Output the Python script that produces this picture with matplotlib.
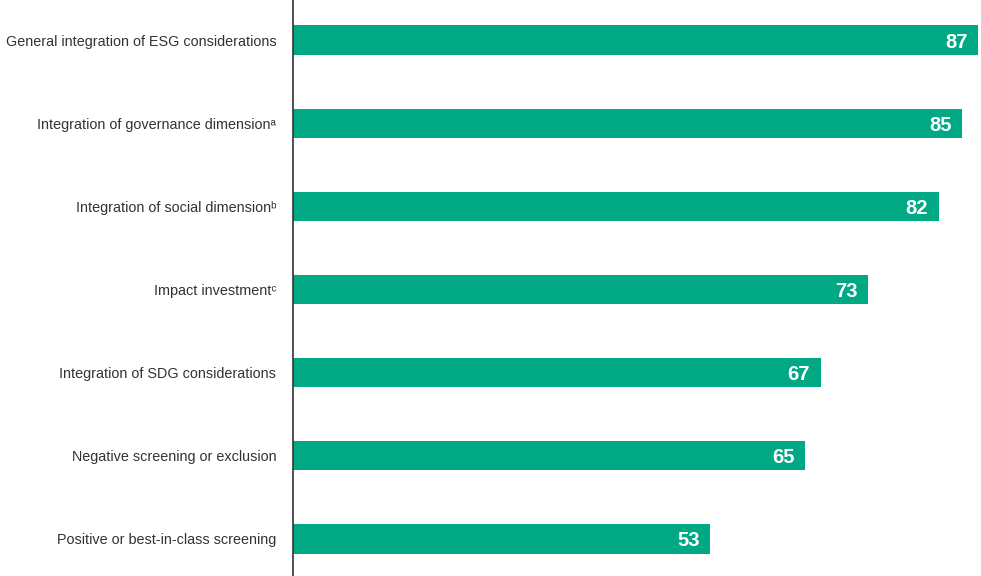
"""Horizontal bar chart of ESG approaches."""

import matplotlib.pyplot as plt

categories = [
    "General integration of ESG considerations",
    "Integration of governance dimension\u1d43",
    "Integration of social dimension\u1d47",
    "Impact investment\u1d9c",
    "Integration of SDG considerations",
    "Negative screening or exclusion",
    "Positive or best-in-class screening",
]
values = [87, 85, 82, 73, 67, 65, 53]

bar_color = "#00A884"
font = ["Liberation Sans", "DejaVu Sans"]

fig = plt.figure(figsize=(9.81, 5.76), dpi=100)
ax = fig.add_axes([293 / 981, 0, 685 / 981, 1])

pos = list(range(len(values)))
ax.barh(pos, values, height=0.35, color=bar_color)

# value labels inside the bar ends
for y, v in zip(pos, values):
    ax.annotate(str(v), xy=(v, y), xytext=(-7.5, 0), textcoords="offset points",
                ha="right", va="center_baseline", color="white", fontsize=14.5,
                fontweight="bold", family=font)

ax.set_xlim(0, 87)
ax.set_ylim(6.445, -0.481)
ax.set_yticks(pos)
ax.set_yticklabels(categories, family=font, fontsize=10.4, color="#333333")
ax.tick_params(axis="y", length=0, pad=12)
ax.set_xticks([])

for side in ["top", "right", "bottom"]:
    ax.spines[side].set_visible(False)
ax.spines["left"].set_color("#333333")
ax.spines["left"].set_linewidth(1.2)

plt.savefig("out.png", dpi=100)
plt.close(fig)
